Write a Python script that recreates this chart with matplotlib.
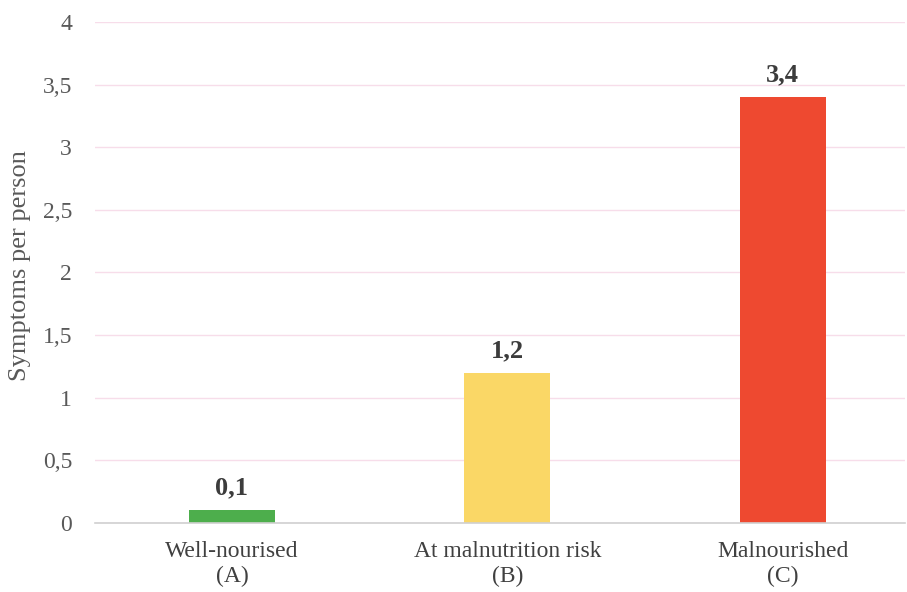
import matplotlib
matplotlib.use("Agg")
import matplotlib.pyplot as plt
from matplotlib.ticker import FuncFormatter, MultipleLocator

categories = ["Well-nourised\n(A)", "At malnutrition risk\n(B)", "Malnourished\n(C)"]
values = [0.1, 1.2, 3.4]
colors = ["#4DAE4C", "#FAD766", "#EE4930"]

plt.rcParams["font.family"] = ["Liberation Serif", "DejaVu Serif"]

fig = plt.figure(figsize=(9.07, 5.92), dpi=100)
ax = fig.add_axes([0.1047, 0.1166, 0.893, 0.8463])

x = list(range(len(categories)))
bars = ax.bar(x, values, width=0.312, color=colors, zorder=3)

for xi, v in zip(x, values):
    ax.text(xi, v + 0.085, f"{v:.1f}".replace(".", ","), ha="center", va="bottom",
            fontsize=19, fontweight="bold", color="#3C3C3C")

ax.set_xlim(-0.497, 2.443)
ax.set_ylim(0, 4)
ax.yaxis.set_major_locator(MultipleLocator(0.5))
ax.yaxis.set_major_formatter(FuncFormatter(
    lambda v, _: (f"{v:g}").replace(".", ",")))
ax.set_xticks(x)
ax.set_xticklabels(categories, fontsize=17, color="#404040", linespacing=1.25)
ax.tick_params(axis="y", length=0, pad=16.5, labelsize=17, labelcolor="#595959")
ax.tick_params(axis="x", length=0, pad=13)

ax.grid(axis="y", color="#F7DDEA", linewidth=1, zorder=0)
for s in ["top", "right", "left"]:
    ax.spines[s].set_visible(False)
ax.spines["bottom"].set_color("#D0D0D0")
ax.spines["bottom"].set_linewidth(1.2)
ax.spines["bottom"].set_zorder(4)

ax.set_ylabel("Symptoms per person", fontsize=19, color="#595959")
ax.yaxis.set_label_coords(-0.079, 0.513)

fig.savefig("out.png", dpi=100)
